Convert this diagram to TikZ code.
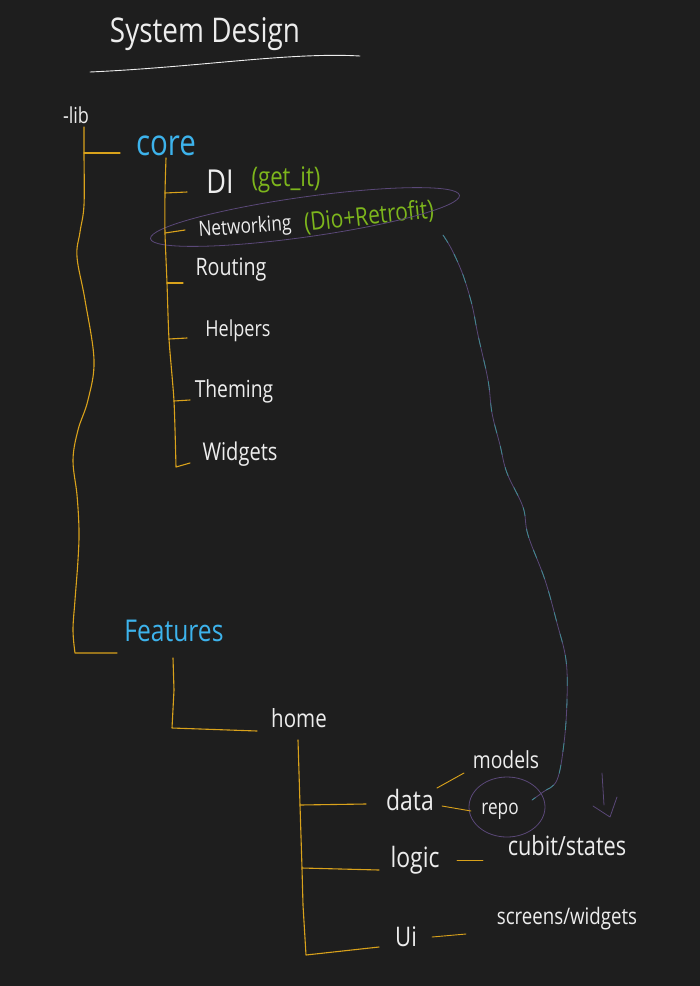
\documentclass[tikz,border=0pt]{standalone}
\usepackage{fontspec}
\setmainfont[FakeStretch=0.82]{Open Sans}
\usetikzlibrary{shapes.geometric}
\definecolor{bg}{HTML}{1E1E1E}
\definecolor{ink}{HTML}{EDEDED}
\definecolor{treeY}{HTML}{D9A21B}
\definecolor{blueT}{HTML}{3DB3EC}
\definecolor{greenT}{HTML}{7DB61C}
\definecolor{mixA}{HTML}{5A4878}
\definecolor{mixB}{HTML}{3E8A8E}
\begin{document}
\begin{tikzpicture}[x=1pt,y=-1pt,
  tree/.style={draw=treeY, line width=1.1pt, line cap=round, line join=round},
  txt/.style={text=ink, inner sep=0pt},
  fs/.style={font=\fontsize{#1}{#1}\selectfont},
  mixline/.style={draw=mixA, line width=0.8pt, line cap=round},
  mixover/.style={draw=mixB, line width=0.8pt, dash pattern=on 9pt off 13pt},
]
\fill[bg] (0,0) rectangle (700,986);
\useasboundingbox (0,0) rectangle (700,986);

% ---- texts ----
\node[txt,fs=34] (title) at (205,34) {System Design};
\node[txt,fs=22] (lib) at (76,115) {-lib};
\node[txt,fs=36,text=blueT] (core) at (166,146) {core};
\node[txt,fs=33] (di) at (220,182) {DI};
\node[txt,fs=27,text=greenT] (getit) at (286,180) {(get\_it)};
\node[txt,fs=21,rotate=4] (net) at (245,228) {Networking};
\node[txt,fs=25.5,text=greenT,rotate=6] (dio) at (369,217) {(Dio+Retrofit)};
\node[txt,fs=24] (routing) at (231,270) {Routing};
\node[txt,fs=22] (helpers) at (238,331) {Helpers};
\node[txt,fs=23.5] (theming) at (234,391) {Theming};
\node[txt,fs=24.5] (widgets) at (240,454) {Widgets};
\node[txt,fs=30,text=blueT] (features) at (174,631) {Features};
\node[txt,fs=25] (home) at (299,718) {home};
\node[txt,fs=28] (data) at (410,800) {data};
\node[txt,fs=23.5] (models) at (506,760) {models};
\node[txt,fs=21] (repo) at (500,811) {repo};
\node[txt,fs=28] (logic) at (415,860) {logic};
\node[txt,fs=26.5] (cubit) at (567,846) {cubit/states};
\node[txt,fs=27] (ui) at (406,937) {Ui};
\node[txt,fs=22.8] (screens) at (567,919) {screens/widgets};

% ---- rings ----
\node[mixline, ellipse, draw, minimum width=312pt, minimum height=40pt, rotate=8] (netring) at (305,217) {};
\node[mixline, ellipse, draw, minimum width=76pt, minimum height=60pt] (reporing) at (507,807) {};

% ---- title underline ----
\coordinate (ulA) at (90,72);
\coordinate (ulB) at (360,56);
\draw[ink, line width=0.9pt, line cap=round] (ulA) .. controls (200,67) and (290,52) .. (ulB);

% ---- lib tree ----
\coordinate (libT) at (84,127);
\coordinate (libCore) at (84,153);
\coordinate (libB) at (75,653);
\coordinate (coreEnd) at (120,153);
\coordinate (featEnd) at (117,653);
\draw[tree] plot[smooth, tension=0.6] coordinates {(libT) (libCore) (84,205) (80,232) (77,257) (85,300) (94,360) (88,400) (78,430) (73,460) (77,495) (79,530) (78,560) (75,600) (73,630) (libB)} -- (featEnd);
\draw[tree] (libCore) -- (coreEnd);

% ---- core tree ----
\coordinate (cT) at (166,158);
\coordinate (cDI) at (165,193);
\coordinate (cNet) at (165,233);
\coordinate (cRout) at (167,283);
\coordinate (cHelp) at (169,339);
\coordinate (cThem) at (174,401);
\coordinate (cWid) at (176,467);
\draw[tree] plot[smooth, tension=0.4] coordinates {(cT) (cDI) (cNet) (cRout) (cHelp) (cThem) (cWid)} -- (190,463);
\draw[tree] (cDI) -- (187,192);
\draw[tree] (cNet) -- (185,230);
\draw[tree] (cRout) -- (183,283);
\draw[tree] (cHelp) -- (187,338);
\draw[tree] (cThem) -- (190,400);

% ---- features -> home ----
\coordinate (fT) at (173,658);
\coordinate (fB) at (172,728);
\coordinate (fE) at (257,731);
\draw[tree] (fT) -- (174,690) -- (fB) -- (fE);

% ---- home tree ----
\coordinate (hT) at (298,740);
\coordinate (hData) at (300,805);
\coordinate (hLogic) at (302,868);
\coordinate (hB) at (306,955);
\draw[tree] (hT) -- (hData) -- (hLogic) -- (303,905) -- (hB) -- (379,947);
\draw[tree] (hData) -- (366,804);
\draw[tree] (hLogic) -- (379,870);

% ---- leaf connectors ----
\coordinate (dmA) at (437,788);
\coordinate (dmB) at (464,773);
\coordinate (drA) at (442,806);
\coordinate (drB) at (471,811);
\coordinate (lcA) at (457,860);
\coordinate (lcB) at (483,860);
\coordinate (usA) at (432,937);
\coordinate (usB) at (466,934);
\draw[tree, line width=0.9pt] (dmA) -- (dmB);
\draw[tree, line width=0.9pt] (drA) -- (drB);
\draw[tree, line width=0.9pt] (lcA) -- (lcB);
\draw[tree, line width=0.9pt] (usA) -- (usB);

% ---- link from Networking ring to repo ring ----
\coordinate (lkA) at (443,235);
\coordinate (lkB) at (532,800);
\foreach \st in {mixline, mixover}{
\draw[\st] plot[smooth, tension=0.6] coordinates {(lkA) (452,250) (463,275) (472,305) (478,335) (488,380) (492,413) (500,445) (507,473) (523,507) (528,535) (545,580) (557,623) (566,660) (567,700) (564,743) (557,780) (543,792) (lkB)};
}

% ---- small down arrow ----
\coordinate (arT) at (602,773);
\coordinate (arS) at (604,805);
\coordinate (arL) at (593,806);
\coordinate (arTip) at (610,817);
\coordinate (arR) at (617,797);
\draw[mixline] (arT) -- (arS);
\draw[mixline, line join=round] (arL) -- (arTip) -- (arR);
\end{tikzpicture}
\end{document}
